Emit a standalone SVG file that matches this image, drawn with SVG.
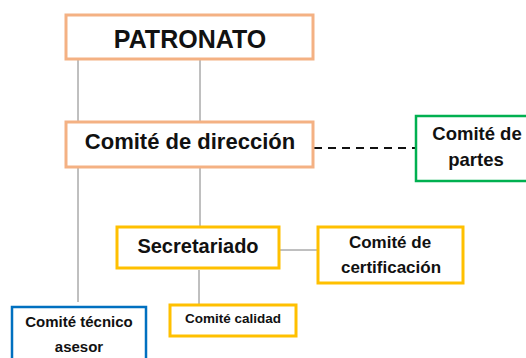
<svg xmlns="http://www.w3.org/2000/svg" width="526" height="358" viewBox="0 0 526 358">
<style>
text{font-family:"Liberation Sans",Arial,sans-serif;font-weight:bold;fill:#111;text-anchor:middle}
rect{fill:#fff}
.or{stroke:#F4B183;stroke-width:3}
.ye{stroke:#FFC000;stroke-width:3}
.gr{stroke:#00B050;stroke-width:2.5}
.bl{stroke:#0070C0;stroke-width:2.5}
.ln{stroke:#808080;stroke-width:1;fill:none}
.dash{stroke:#111;stroke-width:2;stroke-dasharray:8 6;fill:none}
</style>
<rect width="526" height="358" fill="#fff"/>
<g id="connectors">
<line class="ln" x1="78" y1="60" x2="78" y2="122"/>
<line class="ln" x1="200" y1="57" x2="200" y2="122"/>
<line class="ln" x1="78" y1="167" x2="78" y2="302"/>
<line class="ln" x1="200" y1="167" x2="200" y2="227"/>
<line class="ln" x1="279" y1="250" x2="318" y2="250"/>
<line class="ln" x1="199" y1="270" x2="199" y2="305"/>
<line class="dash" x1="314" y1="148" x2="416" y2="148"/>
</g>
<g id="patronato">
<rect class="or" x="66" y="15" width="247" height="44"/>
<text x="190" y="48" font-size="25">PATRONATO</text>
</g>
<g id="comite-direccion">
<rect class="or" x="66" y="122" width="247" height="45"/>
<text x="190" y="149" font-size="22">Comité de dirección</text>
</g>
<g id="comite-partes">
<rect class="gr" x="416" y="116" width="120" height="65"/>
<text x="477" y="140" font-size="18.5">Comité de</text>
<text x="476" y="166" font-size="18.5">partes</text>
</g>
<g id="secretariado">
<rect class="ye" x="117" y="227" width="162" height="41"/>
<text x="198" y="253" font-size="20">Secretariado</text>
</g>
<g id="comite-certificacion">
<rect class="ye" x="318" y="227" width="145" height="56"/>
<text x="390" y="248" font-size="17">Comité de</text>
<text x="391" y="273" font-size="17">certificación</text>
</g>
<g id="comite-calidad">
<rect class="ye" x="170" y="305" width="126" height="31"/>
<text x="233" y="323" font-size="13.5">Comité calidad</text>
</g>
<g id="comite-tecnico">
<rect class="bl" x="12" y="307" width="134" height="60"/>
<text x="79" y="327" font-size="15">Comité técnico</text>
<text x="79" y="352" font-size="15">asesor</text>
</g>
</svg>
